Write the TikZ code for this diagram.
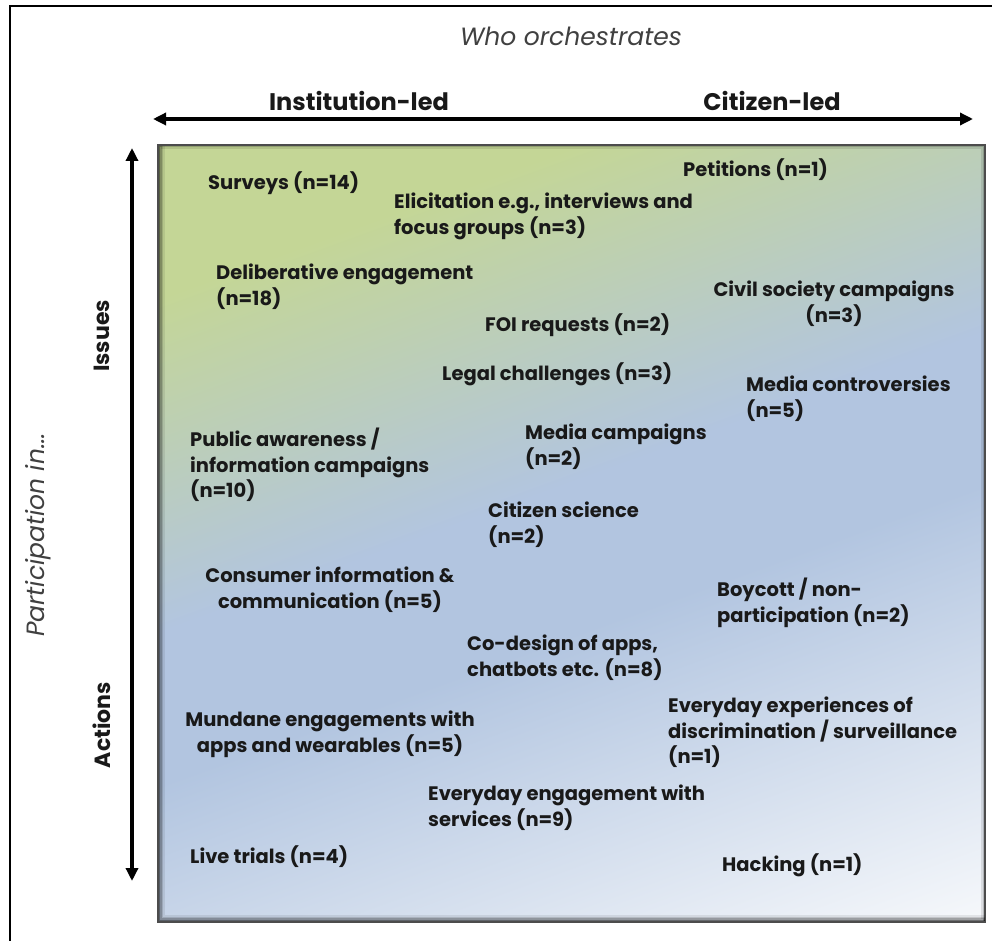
\documentclass[tikz,border=0pt]{standalone}
\usepackage{fontspec}
\setmainfont{Poppins}
\usetikzlibrary{arrows.meta}
\definecolor{sqgreen}{RGB}{196,214,150}
\definecolor{sqblue}{RGB}{178,197,224}
\definecolor{sqwhite}{RGB}{246,248,251}
\definecolor{txt}{RGB}{25,25,25}
\pgfdeclarehorizontalshading{quadshade}{100bp}{color(0bp)=(sqgreen); color(27bp)=(sqgreen); color(47bp)=(sqblue); color(56bp)=(sqblue); color(82bp)=(sqwhite); color(100bp)=(sqwhite)}
\begin{document}
\begin{tikzpicture}[x=1pt,y=-1pt,
  lbl/.style={font=\bfseries\fontsize{19.5}{25.5}\selectfont, text=txt, inner sep=0pt, anchor=north west, align=left, execute at begin node={\rule{0pt}{17pt}}},
  lblc/.style={lbl, anchor=north, align=center},
  axislbl/.style={font=\bfseries\fontsize{24}{26}\selectfont, text=txt, inner sep=0pt, anchor=center},
  vlbl/.style={font=\bfseries\fontsize{22}{24}\selectfont, text=txt, inner sep=0pt, anchor=center, rotate=90},
  titlelbl/.style={font=\itshape\fontsize{25}{28}\selectfont, text=black!75, inner sep=0pt, anchor=center},
  axisarrow/.style={line width=4pt, {Triangle[length=13pt,width=12pt]}-{Triangle[length=13pt,width=12pt]}},
  shadowline/.style={line width=1.6pt, black}
]
\useasboundingbox (0,0) rectangle (992,941);
\clip (0,0) rectangle (992,941);
\fill[white] (0,0) rectangle (992,941);
% outer frame (cropped at right and bottom)
\draw[line width=2pt, black] (10,6) rectangle (1010,960);

% quadrant square
\shadedraw[shading=quadshade, shading angle=-70, draw=black!70, line width=1.5pt] (158,145) rectangle (985,922);
% inner shadow along left and bottom edges
\foreach \d/\o in {1.5/0.55, 3/0.35, 4.5/0.2, 6/0.08} {
  \draw[shadowline, opacity=\o] (158+\d,146) -- (158+\d,922-\d) -- (985,922-\d);
}
\foreach \d/\o in {1.5/0.25, 3/0.1} {
  \draw[shadowline, opacity=\o] (158+\d,145+\d) -- (985-\d,145+\d) -- (985-\d,922-\d);
}

% axes
\coordinate (hl) at (153,119);
\coordinate (hr) at (973,119);
\coordinate (vt) at (132,148);
\coordinate (vb) at (132,881);
\draw[axisarrow] (hl) -- (hr);
\draw[axisarrow] (vt) -- (vb);

\node[titlelbl] (who) at (571,36) {Who orchestrates};
\node[axislbl] (inst) at (359,101) {Institution-led};
\node[axislbl] (cit) at (772,101) {Citizen-led};
\node[vlbl] (issues) at (102,336) {Issues};
\node[vlbl] (actions) at (102,725) {Actions};
\node[titlelbl, rotate=90] (part) at (38,535) {Participation in...};

% items
\node[lbl] (surveys) at (208,171) {Surveys (n=14)};
\node[lbl] (petitions) at (683,158) {Petitions (n=1)};
\node[lbl] (elicit) at (394,193) {Elicitation e.g., interviews and\\focus groups (n=3)};
\node[lbl] (delib) at (216,264) {Deliberative engagement\\(n=18)};
\node[lblc] (civil) at (834,281) {Civil society campaigns\\(n=3)};
\node[lbl] (foi) at (485,313) {FOI requests (n=2)};
\node[lbl] (legal) at (442,362) {Legal challenges (n=3)};
\node[lbl] (mediacon) at (746,376) {Media controversies\\(n=5)};
\node[lbl] (public) at (190,428) {Public awareness /\\information campaigns\\(n=10)};
\node[lbl] (mediacamp) at (525,424) {Media campaigns\\(n=2)};
\node[lbl] (citsci) at (488,502) {Citizen science\\(n=2)};
\node[lblc] (consumer) at (330,567) {Consumer information \&\\communication (n=5)};
\node[lbl] (boycott) at (717,578) {Boycott / non-\\participation (n=2)};
\node[lbl] (codesign) at (467,635) {Co-design of apps,\\chatbots etc. (n=8)};
\node[lbl] (evexp) at (668,697) {Everyday experiences of\\discrimination / surveillance\\(n=1)};
\node[lblc] (mundane) at (330,711) {Mundane engagements with\\apps and wearables (n=5)};
\node[lbl] (eveng) at (428,785) {Everyday engagement with\\services (n=9)};
\node[lbl] (live) at (190,845) {Live trials (n=4)};
\node[lbl] (hacking) at (722,853) {Hacking (n=1)};
\end{tikzpicture}
\end{document}
